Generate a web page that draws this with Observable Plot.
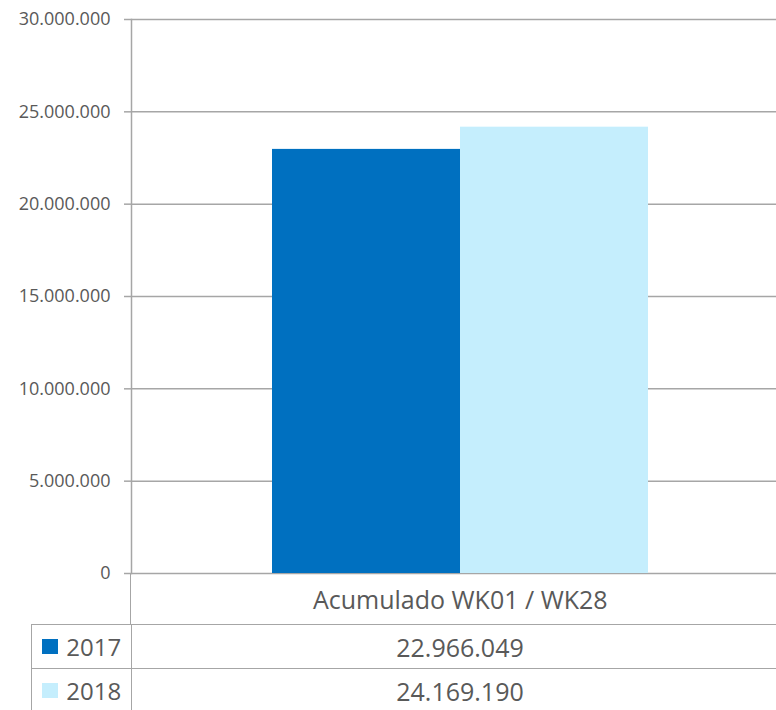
<!DOCTYPE html>
<html><head><meta charset="utf-8">
<script src="https://cdn.jsdelivr.net/npm/d3@7"></script>
<script src="https://cdn.jsdelivr.net/npm/@observablehq/plot@0.6"></script>
<style>
html,body{margin:0;padding:0;overflow:hidden;background:#fff;}
#wrap{position:relative;width:789px;height:710px;font-family:"Open Sans",sans-serif;color:#595959;}
#wrap svg{position:absolute;left:0;top:0;display:block;}
.cell{position:absolute;box-sizing:border-box;display:flex;align-items:center;}
</style></head><body><div id="wrap"></div>
<script>
const category = "Acumulado WK01 / WK28";
const years = ["2017", "2018"];
const values = [22966049, 24169190];
const colors = ["#0070C0", "#C5EEFD"];
const yTicks = [0, 5000000, 10000000, 15000000, 20000000, 25000000, 30000000];

const locale = d3.formatLocale({decimal: ",", thousands: ".", grouping: [3], currency: ["", "€"]});
const fmt = locale.format(",d");
const data = years.map((y, i) => ({year: y, value: values[i], category}));
const lineColor = "#A6A6A6";

const chart = Plot.plot({
  width: 789, height: 574,
  marginTop: 19, marginBottom: 1, marginLeft: 131, marginRight: 0,
  style: {fontFamily: "Open Sans", fontSize: "18px", color: "#595959", background: "transparent", overflow: "visible"},
  x: {domain: years, paddingInner: 0, paddingOuter: 0.75, axis: null},
  y: {domain: [0, 30000000], axis: null, label: null},
  color: {domain: years, range: colors},
  marks: [
    Plot.gridY(yTicks, {stroke: lineColor, strokeOpacity: 1, strokeWidth: 1.5}),
    Plot.barY(data, {x: "year", y: "value", fill: "year"}),
    Plot.axisY(yTicks, {tickSize: 7, tickPadding: 14, tickFormat: fmt, label: null, stroke: lineColor, strokeWidth: 1.5, fill: "#595959", fontSize: 18}),
    Plot.frame({anchor: "left", stroke: lineColor, strokeWidth: 1.5})
  ]
});
const wrap = document.getElementById("wrap");
wrap.appendChild(chart);

// data table below the chart
const border = `1.5px solid ${lineColor}`;
function cell(x, y, w, h, styles, html) {
  const d = document.createElement("div");
  d.className = "cell";
  Object.assign(d.style, {left: x + "px", top: y + "px", width: w + "px", height: h + "px"}, styles);
  d.innerHTML = html;
  wrap.appendChild(d);
  return d;
}
// category row
cell(130.25, 573, 659, 51, {borderLeft: border, justifyContent: "center", fontSize: "25px"}, category);
years.forEach((yr, i) => {
  const top = 624 + i * 44;
  cell(31.25, top, 100.5, 44, {borderLeft: border, borderTop: border, borderRight: border, fontSize: "24px", paddingLeft: "10px"},
    `<span style="display:inline-block;width:16px;height:15px;background:${colors[i]};margin-right:8px"></span>${yr}`);
  cell(131, top, 658, 44, {borderTop: border, justifyContent: "center", fontSize: "25px"}, fmt(values[i]));
});
</script></body></html>
